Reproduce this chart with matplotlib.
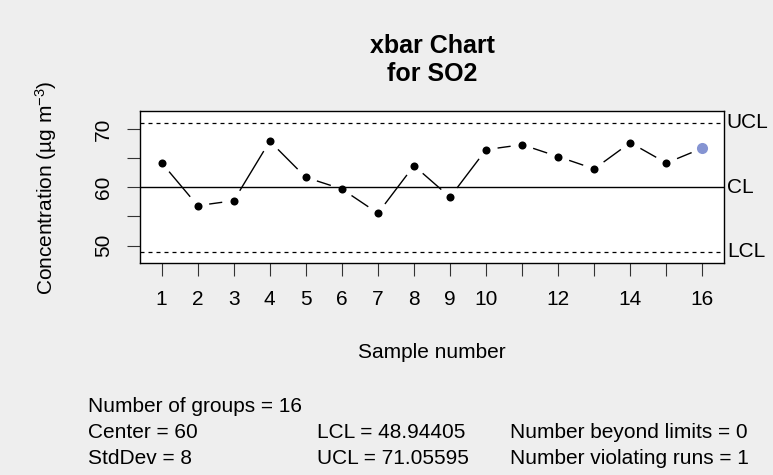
import numpy as np
import matplotlib
matplotlib.use("Agg")
import matplotlib.pyplot as plt

plt.rcParams['font.family'] = ['Liberation Sans', 'DejaVu Sans']
plt.rcParams['mathtext.fontset'] = 'custom'
plt.rcParams['mathtext.rm'] = 'Liberation Sans'
plt.rcParams['mathtext.it'] = 'Liberation Sans:italic'

# group means of SO2 concentration
samples = np.arange(1, 17)
means = [64.2, 56.85, 57.7, 67.9, 61.7, 59.7, 55.55, 63.7,
         58.3, 66.45, 67.3, 65.25, 63.15, 67.65, 64.15, 66.7]
violating = [16]

center = 60
stddev = 8
lcl = 48.94405
ucl = 71.05595
n_beyond = 0
n_violating = 1

xtick_labels = [str(i) if (i <= 10 or i % 2 == 0) else '' for i in samples]
yticks = [50, 55, 60, 65, 70]
ytick_labels = ['50', '', '60', '', '70']

bg = '#EEEEEE'
fig = plt.figure(figsize=(7.73, 4.75), dpi=100, facecolor=bg)
ax = fig.add_axes([0.1811, 0.4457, 0.7555, 0.3206])
ax.set_facecolor('white')
ax.set_xlim(0.4, 16.6)
ax.set_ylim(46.97, 73.07)

# control lines
ax.axhline(center, color='black', lw=1.0)
ax.axhline(ucl, color='black', lw=0.9, linestyle=(0, (3.2, 3.2)))
ax.axhline(lcl, color='black', lw=0.9, linestyle=(0, (3.2, 3.2)))

# "type b" connecting lines: segments with a gap around each point
gap = 12.3
pts = ax.transData.transform(np.column_stack([samples, means]))
inv = ax.transData.inverted()
for a, b in zip(pts[:-1], pts[1:]):
    d = b - a
    dist = np.hypot(*d)
    if dist <= 2 * gap:
        continue
    u = d / dist
    seg = inv.transform(np.array([a + u * gap, b - u * gap]))
    ax.plot(seg[:, 0], seg[:, 1], color='black', lw=1.0)

for x, y in zip(samples, means):
    if x in violating:
        ax.plot(x, y, 'o', color='#8594D2', ms=8, mec='none', zorder=5)
    else:
        ax.plot(x, y, 'o', color='black', ms=5.8, mec='none', zorder=5)

for val, lab in [(ucl, 'UCL'), (center, 'CL'), (lcl, 'LCL')]:
    ax.annotate(lab, xy=(1.0, val), xycoords=('axes fraction', 'data'),
                xytext=(2, 0), textcoords='offset points',
                ha='left', va='center', fontsize=15, annotation_clip=False)

ax.set_xticks(samples)
ax.set_xticklabels(xtick_labels)
ax.set_yticks(yticks)
ax.set_yticklabels(ytick_labels, rotation=90, va='center')
ax.tick_params(axis='both', length=9.4, width=0.8, color='#333333',
               labelsize=15, direction='out')
ax.tick_params(axis='x', pad=10)
ax.tick_params(axis='y', pad=10)
for s in ax.spines.values():
    s.set_linewidth(1.0)
    s.set_color('black')

# titles and labels
fig.text(432 / 773, 1 - 60 / 475, 'xbar Chart\nfor SO2', ha='center', va='center',
         fontsize=18, fontweight='bold', linespacing=1.2)
fig.text(432 / 773, 1 - 352 / 475, 'Sample number', ha='center', va='center', fontsize=15)
fig.text(46 / 773, 1 - 188 / 475, r'Concentration (µg m$^{-3}$)', rotation=90,
         ha='center', va='center', fontsize=15)

# summary statistics under the chart
rows = [1 - 412 / 475, 1 - 438 / 475, 1 - 464 / 475]
cols = [88 / 773, 317 / 773, 510 / 773]
fig.text(cols[0], rows[0], 'Number of groups = %d' % len(samples), fontsize=15, va='baseline')
fig.text(cols[0], rows[1], 'Center = %g' % center, fontsize=15, va='baseline')
fig.text(cols[0], rows[2], 'StdDev = %g' % stddev, fontsize=15, va='baseline')
fig.text(cols[1], rows[1], 'LCL = %.5f' % lcl, fontsize=15, va='baseline')
fig.text(cols[1], rows[2], 'UCL = %.5f' % ucl, fontsize=15, va='baseline')
fig.text(cols[2], rows[1], 'Number beyond limits = %d' % n_beyond, fontsize=15, va='baseline')
fig.text(cols[2], rows[2], 'Number violating runs = %d' % n_violating, fontsize=15, va='baseline')

fig.savefig('out.png', dpi=100, facecolor=bg)
